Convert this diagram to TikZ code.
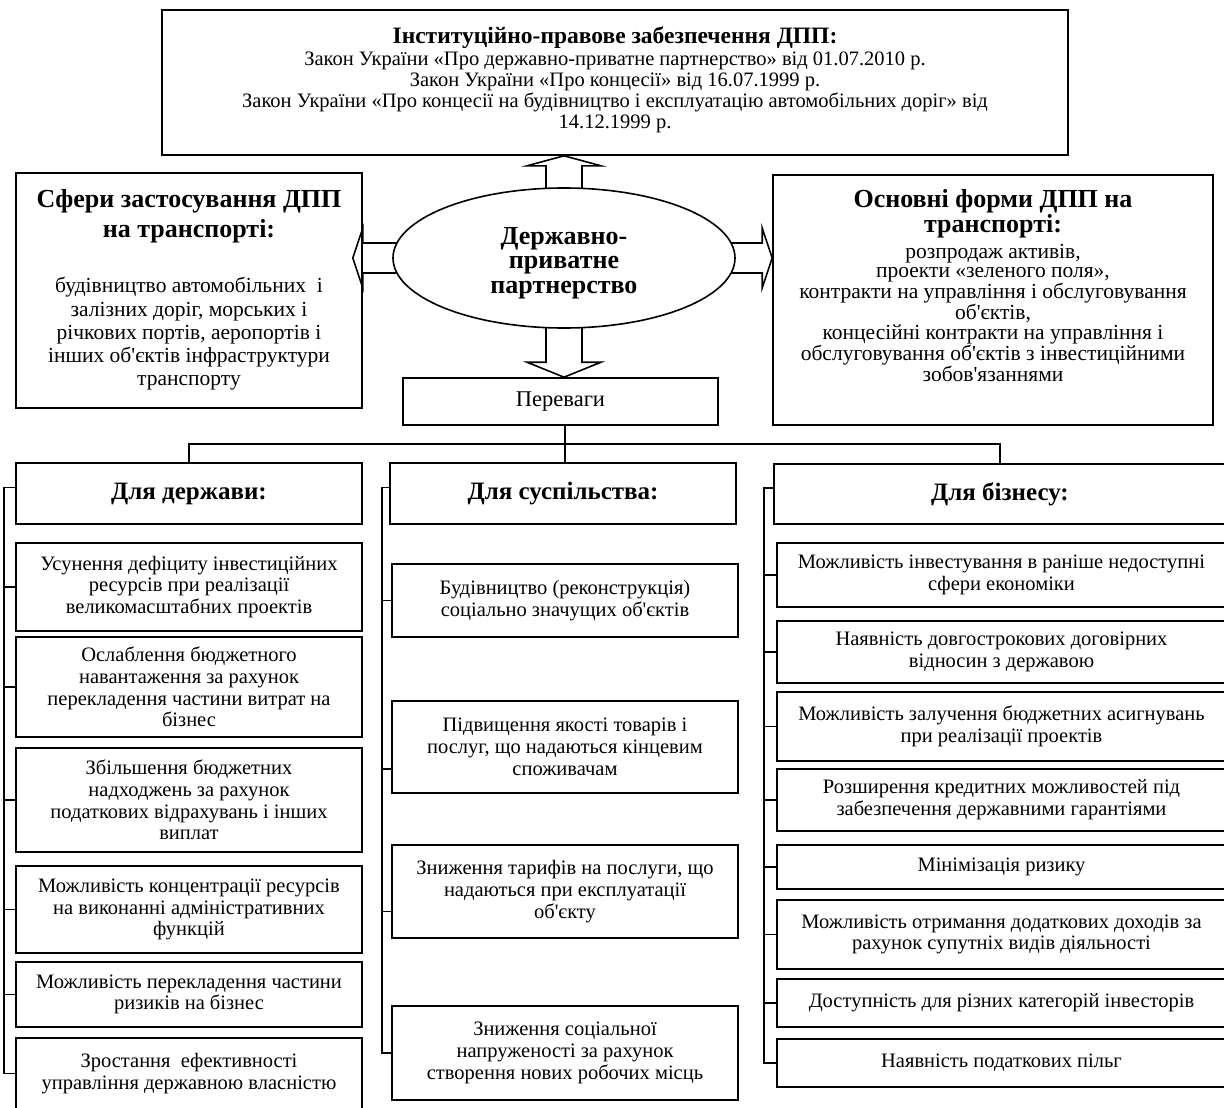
\documentclass[tikz,border=0pt]{standalone}
\usepackage{fontspec}
\setmainfont{Liberation Serif}
\usetikzlibrary{calc,shapes.geometric,backgrounds}
\newcommand{\apo}{\textquotesingle}

\begin{document}
\begin{tikzpicture}[x=1pt,y=-1pt,
  bx/.style={draw, line width=1.6pt, inner sep=0pt, align=center,
             font=\fontsize{20.5}{21.7}\selectfont},
  hd/.style={bx, font=\bfseries\fontsize{25}{28}\selectfont},
  txt/.style={inner sep=0pt, align=center},
  blk/.style={draw, line width=1.6pt, fill=white, line join=miter},
  ln/.style={line width=1.6pt}
]
\useasboundingbox (0,0) rectangle (1224,1108);

% ---------- upper part ----------
\node[bx, minimum width=906pt, minimum height=145pt] (legal) at (615,82.5) {};
\node[txt, font=\bfseries\fontsize{23.5}{26}\selectfont] (legalT) at (615,38)
  {Інституційно-правове забезпечення ДПП:};
\node[txt, font=\fontsize{20.5}{21}\selectfont] (legalB) at (615,92)
  {Закон України «Про державно-приватне партнерство» від 01.07.2010 р.\\
   Закон України «Про концесії» від 16.07.1999 р.\\
   Закон України «Про концесії на будівництво і експлуатацію автомобільних доріг» від\\
   14.12.1999 р.};

\node[bx, minimum width=346pt, minimum height=235pt] (sph) at (189,290.5) {};
\node[txt, font=\bfseries\fontsize{26}{30}\selectfont] (sphT) at (189,216)
  {Сфери застосування ДПП\\на транспорті:};
\node[txt, font=\fontsize{21.5}{23.2}\selectfont] (sphB) at (189,334)
  {будівництво автомобільних\ \ і\\залізних доріг, морських і\\річкових портів, аеропортів і\\
   інших об\apo єктів інфраструктури\\транспорту};

\node[bx, minimum width=440pt, minimum height=250pt] (forms) at (993,300) {};
\node[txt, font=\bfseries\fontsize{26}{23.5}\selectfont] (formsT) at (993,213.5)
  {Основні форми ДПП на\\транспорті:};
\node[txt, font=\fontsize{21.5}{19.6}\selectfont] (formsB) at (993,313)
  {розпродаж активів,\\проекти «зеленого поля»,\\контракти на управління і обслуговування\\
   об\apo єктів,\\концесійні контракти на управління і\\
   обслуговування об\apo єктів з інвестиційними\\зобов\apo язаннями};

\node[ellipse, draw, line width=1.6pt, fill=white, minimum width=342pt,
      minimum height=140pt, inner sep=0pt] (ppp) at (564,258) {};
\node[txt, font=\bfseries\fontsize{26}{24.5}\selectfont] (pppT) at (564,263)
  {Державно-\\приватне\\партнерство};

\node[bx, minimum width=315pt, minimum height=47pt,
      font=\fontsize{22.5}{24}\selectfont] (adv) at (560.5,401.5) {Переваги};

% block arrows out of the ellipse
\begin{scope}[on background layer]
  \coordinate (ua) at (ppp.north |- legal.south);
  \draw[blk] ($(ua)+(-18,40)$) -- ($(ua)+(-18,10)$) -- ($(ua)+(-37,10)$) -- (ua)
     -- ($(ua)+(37,10)$) -- ($(ua)+(18,10)$) -- ($(ua)+(18,40)$) -- cycle;
  \coordinate (da) at (ppp.south |- adv.north);
  \draw[blk] ($(da)+(-18,-60)$) -- ($(da)+(-18,-15)$) -- ($(da)+(-37,-15)$) -- (da)
     -- ($(da)+(37,-15)$) -- ($(da)+(18,-15)$) -- ($(da)+(18,-60)$) -- cycle;
  \coordinate (la) at ($(sph.east |- ppp.west)+(-10,0)$);
  \draw[blk] (la) -- ($(la)+(10,-30)$) -- ($(la)+(10,-15)$) -- ($(la)+(55,-15)$)
     -- ($(la)+(55,15)$) -- ($(la)+(10,15)$) -- ($(la)+(10,30)$) -- cycle;
  \coordinate (ra) at (forms.west |- ppp.east);
  \draw[blk] (ra) -- ($(ra)+(-10,-30)$) -- ($(ra)+(-10,-15)$) -- ($(ra)+(-50,-15)$)
     -- ($(ra)+(-50,15)$) -- ($(ra)+(-10,15)$) -- ($(ra)+(-10,30)$) -- cycle;
\end{scope}

% ---------- column for the state ----------
\node[hd, minimum width=346pt, minimum height=61pt] (h1) at (189,493.5) {Для держави:};
\node[bx, minimum width=346pt, minimum height=88pt] (l1) at (189,587)
  {Усунення дефіциту інвестиційних\\ресурсів при реалізації\\великомасштабних проектів};
\node[bx, minimum width=346pt, minimum height=100pt] (l2) at (189,687)
  {Ослаблення бюджетного\\навантаження за рахунок\\перекладення частини витрат на\\бізнес};
\node[bx, minimum width=346pt, minimum height=104pt] (l3) at (189,800)
  {Збільшення бюджетних\\надходжень за рахунок\\податкових відрахувань і інших\\виплат};
\node[bx, minimum width=346pt, minimum height=87pt] (l4) at (189,909.5)
  {Можливість концентрації ресурсів\\на виконанні адміністративних\\функцій};
\node[bx, minimum width=346pt, minimum height=65pt] (l5) at (189,994.5)
  {Можливість перекладення частини\\ризиків на бізнес};
\node[bx, minimum width=346pt, minimum height=71pt] (l6) at (189,1073.5)
  {Зростання\ \ ефективності\\управління державною власністю};

% ---------- column for society ----------
\node[hd, minimum width=346pt, minimum height=61pt] (h2) at (563,493.5) {Для суспільства:};
\node[bx, minimum width=346pt, minimum height=73pt] (m1) at (565,600.5)
  {Будівництво (реконструкція)\\соціально значущих об\apo єктів};
\node[bx, minimum width=346pt, minimum height=92pt] (m2) at (565,747)
  {Підвищення якості товарів і\\послуг, що надаються кінцевим\\споживачам};
\node[bx, minimum width=346pt, minimum height=93pt] (m3) at (565,891.5)
  {Зниження тарифів на послуги, що\\надаються при експлуатації\\об\apo єкту};
\node[bx, minimum width=346pt, minimum height=94pt] (m4) at (565,1053)
  {Зниження соціальної\\напруженості за рахунок\\створення нових робочих місць};

% ---------- column for business ----------
\node[hd, minimum width=452pt, minimum height=60pt] (h3) at (1000,494) {Для бізнесу:};
\node[bx, minimum width=449pt, minimum height=64pt] (r1) at (1001.5,575)
  {Можливість інвестування в раніше недоступні\\сфери економіки};
\node[bx, minimum width=449pt, minimum height=62pt] (r2) at (1001.5,652)
  {Наявність довгострокових договірних\\відносин з державою};
\node[bx, minimum width=449pt, minimum height=69pt] (r3) at (1001.5,726.5)
  {Можливість залучення бюджетних асигнувань\\при реалізації проектів};
\node[bx, minimum width=449pt, minimum height=62pt] (r4) at (1001.5,800)
  {Розширення кредитних можливостей під\\забезпечення державними гарантіями};
\node[bx, minimum width=449pt, minimum height=44pt] (r5) at (1001.5,867)
  {Мінімізація ризику};
\node[bx, minimum width=449pt, minimum height=69pt] (r6) at (1001.5,934.5)
  {Можливість отримання додаткових доходів за\\рахунок супутніх видів діяльності};
\node[bx, minimum width=449pt, minimum height=48pt] (r7) at (1001.5,1003)
  {Доступність для різних категорій інвесторів};
\node[bx, minimum width=449pt, minimum height=48pt] (r8) at (1001.5,1063)
  {Наявність податкових пільг};

% ---------- connectors ----------
\coordinate (fork) at (565,444);
\draw[ln] (fork |- adv.south) -- (fork);
\draw[ln] (h1.north) |- (fork) -| (h3.north);
\draw[ln] (fork) -- (fork |- h2.north);

\coordinate (lb) at (4,0);
\coordinate (mb) at (382,0);
\coordinate (rb) at (764,0);

\draw[ln] ($(h1.west)+(0,-6)$) -- ($(lb |- h1.west)+(0,-6)$) -- (lb |- l6.west) -- (l6.west);
\foreach \n in {l1,l2,l3,l4,l5}
  \draw[ln] (lb |- \n.west) -- (\n.west);

\draw[ln] ($(h2.west)+(0,-6)$) -- ($(mb |- h2.west)+(0,-6)$) -- (mb |- m4.west) -- (m4.west);
\draw[ln] (mb |- m1.west) -- (m1.west);
\draw[ln] ($(mb |- m2.west)+(0,22)$) -- ($(m2.west)+(0,22)$);
\draw[ln] ($(mb |- m3.west)+(0,20)$) -- ($(m3.west)+(0,20)$);

\draw[ln] ($(h3.west)+(0,-6)$) -- ($(rb |- h3.west)+(0,-6)$) -- (rb |- r8.west) -- (r8.west);
\foreach \n in {r1,r2,r3,r4,r5,r6,r7}
  \draw[ln] (rb |- \n.west) -- (\n.west);

\end{tikzpicture}
\end{document}
